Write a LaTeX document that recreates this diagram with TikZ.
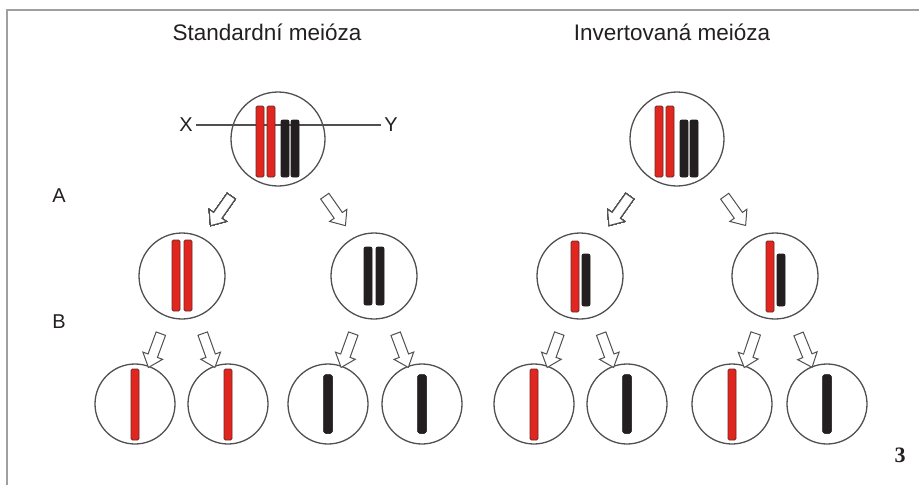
\documentclass[tikz,border=0pt]{standalone}
\usepackage{fontspec}
\setmainfont{Liberation Sans}
\newfontfamily\numfont{Liberation Serif}
\usetikzlibrary{calc,shapes.arrows}
\definecolor{chrred}{HTML}{E1251F}
\definecolor{chredge}{HTML}{6A2A22}
\definecolor{chrblack}{HTML}{231F20}
\definecolor{cellline}{HTML}{505050}
\definecolor{framegray}{HTML}{A0A0A0}
\begin{document}
\begin{tikzpicture}[x=1pt,y=-1pt,font=\fontsize{20}{24}\selectfont,text=chrblack,
    cell/.style={circle,draw=cellline,line width=1.3pt,fill=white,minimum size=#1,inner sep=0pt},
    redchr/.style={fill=chrred,draw=chredge,line width=.9pt,rounded corners=1.5pt},
    blackchr/.style={fill=chrblack,draw=chrblack,line width=.9pt,rounded corners=2pt},
    split/.style={single arrow,draw=cellline,fill=white,line width=1pt,
        inner xsep=0pt,inner ysep=4.5pt,minimum height=36pt,
        single arrow head extend=5.5pt,single arrow tip angle=80,
        sloped,allow upside down}]
    \useasboundingbox (0,0) rectangle (919,485);
    \def\chr#1#2#3#4#5{\draw[#1] ($(#2)+(#3,#4)$) rectangle ++(8,#5);}
    % frame
    \draw[framegray,line width=1.5pt] (7,485) -- (7,10) -- (919,10);
    \node[font=\fontsize{22.5}{26}\selectfont] (std) at (267,32) {Standardní meióza};
    \node[font=\fontsize{22.5}{26}\selectfont] (inv) at (672,32) {Invertovaná meióza};
    \node (A) at (59,196) {A};
    \node (B) at (59,322) {B};
    \node[font=\fontsize{22}{26}\selectfont] (fig) at (900,455) {\numfont\bfseries 3};
    % cells, standard
    \node[cell=94] (s0) at (278,139) {};
    \node[cell=86] (s1) at (182,276) {};
    \node[cell=86] (s2) at (374,276) {};
    \foreach \n/\x in {s11/135,s12/228,s21/328,s22/422}
        \node[cell=80] (\n) at (\x,404) {};
    % cells, inverted
    \node[cell=94] (i0) at (677,139) {};
    \node[cell=86] (i1) at (580,276) {};
    \node[cell=86] (i2) at (775,276) {};
    \foreach \n/\x in {i11/534,i12/627,i21/732,i22/827}
        \node[cell=80] (\n) at (\x,404) {};
    % X--Y line behind the chromosomes
    \node (X) at (186,125) {X};
    \node (Y) at (391,125) {Y};
    \draw[cellline,line width=1.2pt] (X) -- (Y);
    % chromosomes
    \foreach \c in {s0,i0}{
        \chr{redchr}{\c}{-22}{-33}{71}
        \chr{redchr}{\c}{-11}{-33}{71}
        \chr{blackchr}{\c}{3}{-19}{57}
        \chr{blackchr}{\c}{13}{-19}{57}}
    \chr{redchr}{s1}{-10}{-36}{71}
    \chr{redchr}{s1}{2}{-36}{71}
    \chr{blackchr}{s2}{-10}{-29}{58}
    \chr{blackchr}{s2}{2}{-29}{58}
    \foreach \c in {i1,i2}{
        \chr{redchr}{\c}{-9}{-35}{71}
        \chr{blackchr}{\c}{2}{-22}{52}}
    \foreach \c in {s11,s12,i11,i21}
        \chr{redchr}{\c}{-4}{-35}{71}
    \foreach \c in {s21,s22,i12,i22}
        \chr{blackchr}{\c}{-4}{-29}{58}
    % division arrows
    \foreach \a/\b in {s0/s1,i0/i1}
        \path (\a) -- (\b) node[split,pos=.54,anchor=north] {};
    \foreach \a/\b in {s0/s2,i0/i2}
        \path (\a) -- (\b) node[split,pos=.54,anchor=south] {};
    \foreach \a/\b in {s1/s11,s1/s12,s2/s21,s2/s22,i1/i11,i1/i12,i2/i21,i2/i22}
        \path (\a) -- (\b) node[split,pos=.63] {};
\end{tikzpicture}
\end{document}
